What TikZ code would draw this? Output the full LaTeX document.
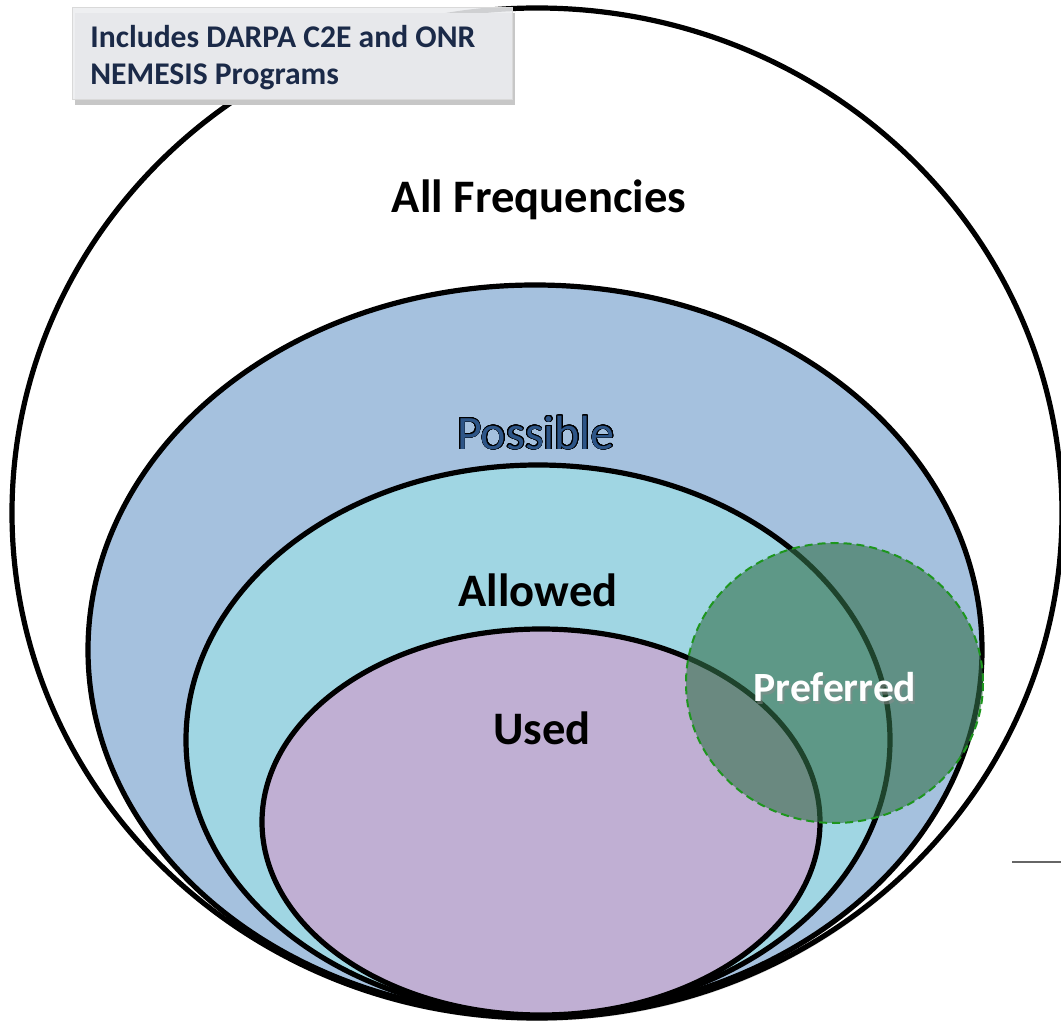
\documentclass[tikz,border=0pt]{standalone}
\usepackage{fontspec}
\setmainfont{Carlito}
\usepackage[copies]{contour}
\usetikzlibrary{shadows,shapes.geometric}
\definecolor{possiblefill}{RGB}{165,193,222}
\definecolor{allowedfill}{RGB}{160,214,227}
\definecolor{usedfill}{RGB}{192,175,211}
\definecolor{preffill}{RGB}{50,112,74}
\definecolor{prefedge}{RGB}{30,150,30}
\definecolor{labelnavy}{RGB}{27,42,72}
\definecolor{labelbox}{RGB}{236,237,240}
\definecolor{possibletext}{RGB}{45,85,135}
\contourlength{0.45pt}
\contournumber{24}
\tikzset{
  setline/.style={draw=black, line width=2.6pt},
  settext/.style={text=black},
}
\begin{document}
\begin{tikzpicture}[x=0.5pt,y=-0.5pt]
\useasboundingbox (0,0) rectangle (1061,1021);
\clip (0,0) rectangle (1061,1021);
\fill[white] (0,0) rectangle (1061,1021);
% soft shadow
\fill[black!15] (538,516) ellipse [x radius=525, y radius=505];
% outer set
\draw[setline, fill=white] (537,513) ellipse [x radius=525, y radius=505];
% possible
\draw[setline, fill=possiblefill] (535,650) ellipse [x radius=447, y radius=365];
% allowed
\draw[setline, fill=allowedfill] (538,740) ellipse [x radius=352, y radius=275];
% used
\draw[setline, fill=usedfill] (541,822) ellipse [x radius=279, y radius=193];
% preferred
\path[fill=preffill, fill opacity=0.6, draw=prefedge, draw opacity=1, line width=1pt, dash pattern=on 4pt off 2.5pt] (834.5,683) ellipse [x radius=148.5, y radius=140];
% labels
\node[settext, font=\bfseries\fontsize{23.3}{27}\selectfont] (allfreq) at (539,200) {All Frequencies};
\node[font=\fontsize{24}{28}\selectfont] (possible) at (536,433) {\contour{black}{\textcolor{possibletext}{Possible}}};
\node[settext, font=\bfseries\fontsize{23.3}{27}\selectfont] (allowed) at (538,590) {Allowed};
\node[settext, font=\bfseries\fontsize{23.3}{27}\selectfont] (used) at (542,728) {Used};
\node[font=\bfseries\fontsize{20.8}{25}\selectfont, text=black!45, opacity=0.5] at (837,690) {Preferred};
\node[font=\bfseries\fontsize{20.8}{25}\selectfont, text=white] (preferred) at (835,687) {Preferred};
% info box
\fill[black!22] (75,13) rectangle (515,105);
\fill[labelbox, fill opacity=0.88, draw=black!15, line width=0.5pt] (72,8) rectangle (512,100);
\node[anchor=north west, align=left, text=labelnavy, font=\bfseries\fontsize{15.8}{18.5}\selectfont, inner sep=0pt] (info) at (90,25) {Includes DARPA C2E and ONR\\NEMESIS Programs};
% stray mark at right edge
\coordinate (m1) at (1012,862);
\coordinate (m2) at (1061,862);
\draw[black!60, line width=1pt] (m1) -- (m2);
\end{tikzpicture}
\end{document}
